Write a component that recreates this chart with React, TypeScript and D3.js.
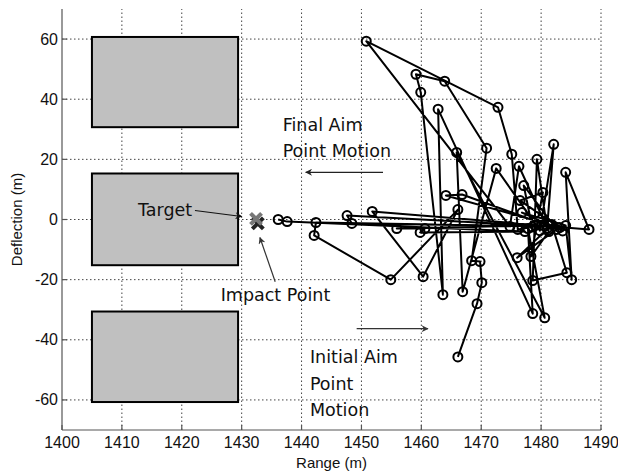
import React from 'react';
import * as d3 from 'd3';

// aim point track, in order (range m, deflection m)
const rangeM = [
  1466.1, 1469.3, 1470.1, 1469.8, 1468.4, 1470.9, 1463.9, 1459.1, 1459.9, 1463.6,
  1462.8, 1478.6, 1477.8, 1480.6, 1465.9, 1466.9, 1472.5, 1479.8, 1482.1, 1481.0,
  1479.3, 1478.6, 1484.3, 1481.8, 1476.0, 1482.6, 1477.1, 1478.5, 1476.1, 1475.1,
  1472.8, 1450.8, 1474.8, 1476.3, 1481.3, 1478.3, 1480.3, 1476.5, 1483.1, 1464.1,
  1466.8, 1483.6, 1476.8, 1484.1, 1485.1, 1484.1, 1488.0, 1451.8, 1460.3, 1466.1,
  1454.9, 1442.1, 1442.4, 1480.6, 1448.4, 1447.6, 1479.0, 1455.9, 1460.6, 1459.8,
  1477.3, 1437.6, 1436.1,
];
const deflectionM = [
  -45.7, -28.0, -21.0, -14.0, -13.7, 23.7, 46.0, 48.3, 42.3, -25.0,
  36.7, -31.3, -3.0, -32.7, 22.3, -24.0, 17.0, -3.7, 25.0, -3.0,
  20.0, -20.3, -17.7, -1.7, -12.7, -3.3, 11.3, -2.5, -3.3, 21.7,
  37.3, 59.3, -2.3, 17.7, -4.0, -12.3, 9.0, 6.3, -2.7, 8.0,
  8.3, -3.8, 2.3, -2.0, -20.0, 15.7, -3.3, 2.7, -19.0, 3.3,
  -20.0, -5.3, -1.0, -2.3, -1.3, 1.3, -2.0, -3.0, -3.0, -4.3,
  -4.0, -0.7, 0.0,
];

// target boxes [x0, x1, y0, y1]
const boxes = [
  [1405, 1429.4, 30.7, 60.7],
  [1405, 1429.4, -15.2, 15.3],
  [1405, 1429.4, -60.7, -30.6],
];

// impact markers
const impactRange = [1432.7, 1432.4];
const impactDefl = [-1.3, 0.2];
const impactColor = ['#222', '#777'];

const xTicks = [1400, 1410, 1420, 1430, 1440, 1450, 1460, 1470, 1480, 1490];
const yTicks = [-60, -40, -20, 0, 20, 40, 60];

const W = 618;
const H = 475;
const annFont = "'DejaVu Sans', Verdana, sans-serif";
const tickFont = "'Liberation Sans', Arial, sans-serif";

export default function App() {
  const x = d3.scaleLinear().domain([1400, 1490]).range([62, 601]);
  const y = d3.scaleLinear().domain([-70, 70]).range([430, 9]);

  const pts: [number, number][] = rangeM.map((r, i) => [x(r), y(deflectionM[i])]);
  const line = d3.line()(pts) || '';

  // annotations in data units
  const arrows = [
    { x1: 1422.2, y1: 3.0, x2: 1430.0, y2: 1.0, c: '#111' },
    { x1: 1435.6, y1: -20.7, x2: 1433.05, y2: -6.0, c: '#333' },
    { x1: 1453.6, y1: 15.7, x2: 1440.7, y2: 15.7, c: '#222' },
    { x1: 1449.2, y1: -36.3, x2: 1461.1, y2: -36.3, c: '#333' },
  ];
  const labels = [
    { t: 'Target', x: 1412.7, y: 1.0 },
    { t: 'Impact Point', x: 1426.5, y: -27.0 },
    { t: 'Final Aim', x: 1436.85, y: 29.3 },
    { t: 'Point Motion', x: 1436.85, y: 20.7 },
    { t: 'Initial Aim', x: 1441.4, y: -47.7 },
    { t: 'Point', x: 1441.4, y: -56.7 },
    { t: 'Motion', x: 1441.4, y: -65.3 },
  ];

  const [x0, x1] = x.range();
  const [yb, yt] = y.range();

  return (
    <svg width={W} height={H} style={{ position: 'absolute', left: 0, top: 0, background: '#fff' }}>
      <defs>
        {arrows.map((a, i) => (
          <marker key={i} id={'ah' + i} viewBox="0 0 10 10" refX="9" refY="5"
            markerWidth="10" markerHeight="7" markerUnits="userSpaceOnUse" orient="auto">
            <path d="M0,0 L10,5 L0,10 L3,5 Z" fill={a.c} />
          </marker>
        ))}
      </defs>

      {/* grid */}
      <g stroke="#444" strokeWidth={1} strokeDasharray="1.5,2.5">
        {xTicks.slice(1).map(t => (
          <line key={t} x1={x(t)} x2={x(t)} y1={yb} y2={yt} />
        ))}
        {yTicks.map(t => (
          <line key={t} x1={x0} x2={x1} y1={y(t)} y2={y(t)} />
        ))}
      </g>

      {/* target boxes */}
      {boxes.map((b, i) => (
        <rect key={i} x={x(b[0])} y={y(b[3])} width={x(b[1]) - x(b[0])} height={y(b[2]) - y(b[3])}
          fill="#c0c0c0" stroke="#000" strokeWidth={2} />
      ))}

      {/* axes */}
      <g stroke="#555" strokeWidth={1.2}>
        <line x1={x0} x2={x0} y1={yb} y2={yt} />
        <line x1={x0} x2={x1} y1={yb} y2={yb} />
        {xTicks.map(t => <line key={t} x1={x(t)} x2={x(t)} y1={yb} y2={yb - 5} />)}
        {yTicks.map(t => <line key={t} x1={x0} x2={x0 + 5} y1={y(t)} y2={y(t)} />)}
      </g>
      <g fontFamily={tickFont} fontSize={16} fill="#111">
        {xTicks.map(t => (
          <text key={t} x={x(t)} y={yb + 18} textAnchor="middle">{t}</text>
        ))}
        {yTicks.map(t => (
          <text key={t} x={x0 - 4} y={y(t) + 5.5} textAnchor="end">{t}</text>
        ))}
        <text x={(x0 + x1) / 2} y={468} textAnchor="middle" fontSize={15}>Range (m)</text>
        <text transform={`translate(22,${y(0)}) rotate(-90)`} textAnchor="middle" fontSize={15}>Deflection (m)</text>
      </g>

      {/* track */}
      <path d={line} fill="none" stroke="#000" strokeWidth={2} strokeLinejoin="round" />
      {pts.map((p, i) => (
        <circle key={i} cx={p[0]} cy={p[1]} r={4.5} fill="none" stroke="#000" strokeWidth={2} />
      ))}

      {/* impact markers */}
      {impactRange.map((r, i) => {
        const cx = x(r), cy = y(impactDefl[i]), s = 5.5;
        return (
          <g key={i} stroke={impactColor[i]} strokeWidth={4}>
            <line x1={cx - s} y1={cy - s} x2={cx + s} y2={cy + s} />
            <line x1={cx - s} y1={cy + s} x2={cx + s} y2={cy - s} />
          </g>
        );
      })}

      {/* annotations */}
      {arrows.map((a, i) => (
        <line key={i} x1={x(a.x1)} y1={y(a.y1)} x2={x(a.x2)} y2={y(a.y2)}
          stroke={a.c} strokeWidth={1.2} markerEnd={`url(#ah${i})`} />
      ))}
      <g fontFamily={annFont} fontSize={17.5} fill="#111">
        {labels.map((l, i) => (
          <text key={i} x={x(l.x)} y={y(l.y)}>{l.t}</text>
        ))}
      </g>
    </svg>
  );
}
